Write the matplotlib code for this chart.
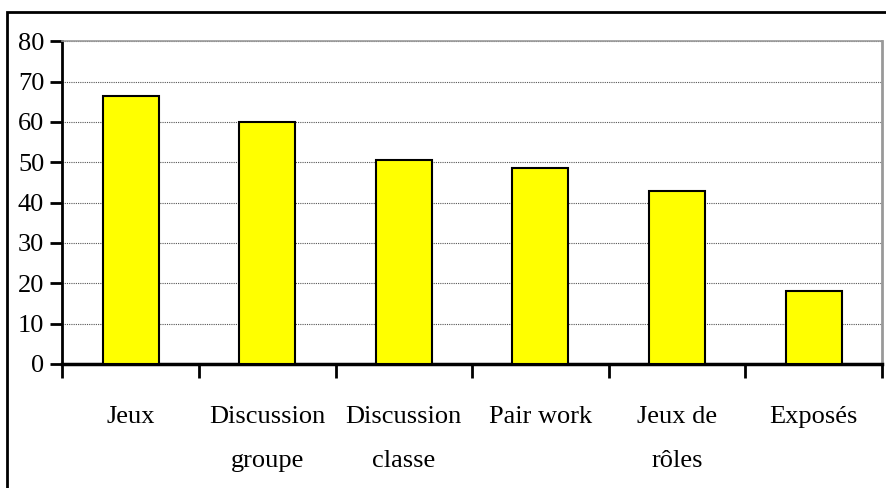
import matplotlib.pyplot as plt
from matplotlib.patches import Rectangle

# Data
categories = ["Jeux", "Discussion\ngroupe", "Discussion\nclasse", "Pair work", "Jeux de\nrôles", "Exposés"]
values = [66.5, 60, 50.5, 48.5, 43, 18]
y_ticks = [0, 10, 20, 30, 40, 50, 60, 70, 80]

plt.rcParams['font.family'] = ['Liberation Serif', 'DejaVu Serif']

fig = plt.figure(figsize=(8.86, 4.88), dpi=100)
ax = fig.add_axes([62.3 / 886, 1 - 364 / 488, (882 - 62.3) / 886, (364 - 41.3) / 488])

x = list(range(len(categories)))
ax.bar(x, values, width=0.41, color='#ffff00', edgecolor='black', linewidth=1.5, zorder=3)

ax.set_xlim(-0.5, len(categories) - 0.5)
ax.set_ylim(0, 80)
ax.set_yticks(y_ticks)
ax.tick_params(axis='y', direction='out', length=9, width=2, labelsize=19, pad=4)

# category boundaries as major ticks, labels on minor ticks
ax.set_xticks([i - 0.5 for i in range(len(categories) + 1)])
ax.set_xticklabels([])
ax.set_xticks(x, minor=True)
ax.set_xticklabels(categories, minor=True, fontsize=19, linespacing=2.3)
ax.tick_params(axis='x', which='major', direction='out', length=10, width=2)
ax.tick_params(axis='x', which='minor', length=0, pad=30)

ax.yaxis.grid(True, color='#555555', linestyle=(0, (1, 1)), linewidth=0.8, zorder=0)

ax.spines['left'].set_linewidth(2)
ax.spines['bottom'].set_linewidth(2.5)
ax.spines['top'].set_color('#999999')
ax.spines['top'].set_linewidth(1.2)
ax.spines['right'].set_color('#999999')
ax.spines['right'].set_linewidth(2)

# outer chart frame
fig.add_artist(Rectangle((7 / 886, -0.1), 1.0, (488 - 12) / 488 + 0.1,
                         transform=fig.transFigure, fill=False, edgecolor='black', linewidth=2))

fig.savefig('out.png', dpi=100)
